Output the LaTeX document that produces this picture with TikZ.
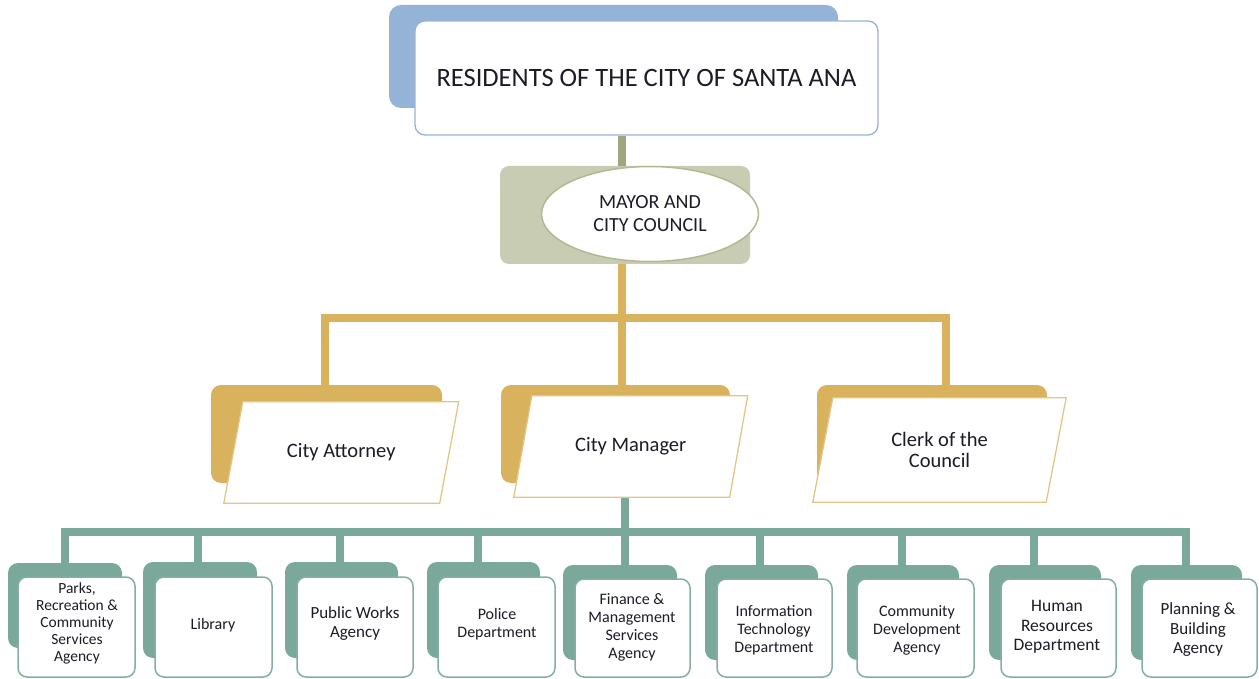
\documentclass[tikz,border=0pt]{standalone}
\usepackage{fontspec}
\setmainfont{Carlito}
\usetikzlibrary{shapes.geometric,fit}
\pgfdeclarelayer{back}
\pgfdeclarelayer{mid}
\pgfsetlayers{back,mid,main}
\definecolor{blueB}{HTML}{95B3D7}
\definecolor{oliveL}{HTML}{9FA77F}
\definecolor{oliveB}{HTML}{C8CCB2}
\definecolor{oliveE}{HTML}{B3B893}
\definecolor{goldC}{HTML}{D9B25E}
\definecolor{goldE}{HTML}{E3C687}
\definecolor{tealC}{HTML}{7AA89A}
\definecolor{tealE}{HTML}{84AFA2}
\definecolor{txt}{HTML}{1C1C28}
\tikzset{
  backblue/.style={fill=blueB, rounded corners=12pt, inner sep=0pt},
  frontblue/.style={fill=white, draw=blueB, line width=1.3pt, rounded corners=10pt, inner sep=0pt, text=txt, font=\fontsize{26.5}{30}\selectfont},
  backolive/.style={fill=oliveB, rounded corners=9pt, inner sep=0pt},
  ellolive/.style={ellipse, fill=white, draw=oliveE, line width=1.5pt, inner sep=0pt, align=center, text=txt, font=\fontsize{20}{23}\selectfont},
  backgold/.style={fill=goldC, rounded corners=10pt, inner sep=0pt},
  textgold/.style={inner sep=0pt, align=center, text=txt, font=\fontsize{20.5}{21.5}\selectfont},
  parafront/.style={fill=white, draw=goldE, line width=1.3pt},
  backteal/.style={fill=tealC, rounded corners=10pt, inner sep=0pt},
  frontteal/.style={fill=white, draw=tealE, line width=1.5pt, rounded corners=9pt, inner sep=0pt, align=center, text=txt, font=\fontsize{16}{18}\selectfont},
  oliveline/.style={draw=oliveL, line width=8pt},
  goldline/.style={draw=goldC, line width=8pt},
  tealline/.style={draw=tealC, line width=8pt},
}
\newcommand\paradraw[2]{\draw[parafront] ([xshift=#2]#1.north west) -- ([xshift=#2]#1.north east) -- ([xshift=-#2]#1.south east) -- ([xshift=-#2]#1.south west) -- cycle;}
\begin{document}
\begin{tikzpicture}[x=1pt,y=-1pt]
\useasboundingbox (0,0) rectangle (1259,679);
% ---------- top ----------
\begin{pgfonlayer}{back}
\node[backblue, fit={(389,5) (838,108)}] (topB) {};
\node[backolive, fit={(500,166) (750,264)}] (mayorB) {};
\node[backgold, fit={(211,385) (442,483)}] (attB) {};
\node[backgold, fit={(501,385) (730,483)}] (cmB) {};
\node[backgold, fit={(817,385) (1047,483)}] (clerkB) {};
\node[backteal, fit={(8,563) (122,648)}] (b1B) {};
\node[backteal, fit={(143,562) (257,658)}] (b2B) {};
\node[backteal, fit={(285,562) (398,658)}] (b3B) {};
\node[backteal, fit={(427,562) (540,658)}] (b4B) {};
\node[backteal, fit={(563,565) (677,660)}] (b5B) {};
\node[backteal, fit={(705,565) (818,660)}] (b6B) {};
\node[backteal, fit={(847,565) (959,660)}] (b7B) {};
\node[backteal, fit={(989,565) (1101,660)}] (b8B) {};
\node[backteal, fit={(1131,565) (1242,660)}] (b9B) {};
\end{pgfonlayer}
\node[frontblue, fit={(415,21) (878,135)}] (topF) {};
\node at (topF.center) (topT) [text=txt, font=\fontsize{26.5}{30}\selectfont] {RESIDENTS OF THE CITY OF SANTA ANA};
\node[ellolive, minimum width=217pt, minimum height=95pt] (mayorE) at (650,214) {MAYOR AND\\CITY COUNCIL};
% ---------- middle fronts ----------
\node[textgold, fit={(233.5,402) (449,503)}] (attF) {};
\node[textgold, fit={(523,396) (738.5,497)}] (cmF) {};
\node[textgold, fit={(823,398) (1056,502)}] (clerkF) {};
\begin{pgfonlayer}{mid}
\paradraw{attF}{9.5pt}
\paradraw{cmF}{9pt}
\paradraw{clerkF}{10pt}
\end{pgfonlayer}
\node[textgold] (attT) at (attF.center) {City Attorney};
\node[textgold] (cmT) at (cmF.center) {City Manager};
\node[textgold] (clerkT) at (clerkF.center) {Clerk of the\\Council};
% ---------- bottom fronts ----------
\node[frontteal, fit={(18,577) (135,677)}, font=\fontsize{15.5}{17}\selectfont] (b1F) {};
\node[frontteal, fit={(155,577) (272,677)}] (b2F) {};
\node[frontteal, fit={(297,577) (413,677)}] (b3F) {};
\node[frontteal, fit={(438,577) (555,677)}] (b4F) {};
\node[frontteal, fit={(575,579) (690,677)}] (b5F) {};
\node[frontteal, fit={(717,579) (832,677)}] (b6F) {};
\node[frontteal, fit={(857,579) (974,677)}] (b7F) {};
\node[frontteal, fit={(1001,579) (1116,677)}] (b8F) {};
\node[frontteal, fit={(1142,579) (1257,677)}] (b9F) {};
\node[frontteal, draw=none, fill=none, font=\fontsize{15.5}{17}\selectfont] (b1T) at (77,623) {Parks,\\Recreation \&\\Community\\Services\\Agency};
\node[frontteal, draw=none, fill=none] (b2T) at (213,625) {Library};
\node[frontteal, draw=none, fill=none, font=\fontsize{17}{19}\selectfont] (b3T) at (355,624) {Public Works\\Agency};
\node[frontteal, draw=none, fill=none] (b4T) at (497,624) {Police\\Department};
\node[frontteal, draw=none, fill=none] (b5T) at (632,627) {Finance \&\\Management\\Services\\Agency};
\node[frontteal, draw=none, fill=none] (b6T) at (774,630) {Information\\Technology\\Department};
\node[frontteal, draw=none, fill=none] (b7T) at (917,630) {Community\\Development\\Agency};
\node[frontteal, draw=none, fill=none, font=\fontsize{17.5}{19.5}\selectfont] (b8T) at (1057,627) {Human\\Resources\\Department};
\node[frontteal, draw=none, fill=none, font=\fontsize{17}{19.5}\selectfont] (b9T) at (1198,630) {Planning \&\\Building\\Agency};
% ---------- connectors ----------
\begin{pgfonlayer}{back}
\coordinate (spine) at (622,0);
\draw[oliveline] (topF.south -| spine) -- (mayorB.north -| spine);
\coordinate (gbus) at (622,318);
\coordinate (gL) at (325,318);
\coordinate (gR) at (946,318);
\draw[goldline] (mayorB.south -| gbus) -- (cmB.north -| gbus);
\draw[goldline] (gL |- attB.north) -- (gL) -- (gR) -- (gR |- clerkB.north);
\coordinate (tbus) at (625,532);
\coordinate (d1) at (65,532);
\coordinate (d2) at (198,532);
\coordinate (d3) at (340,532);
\coordinate (d4) at (478,532);
\coordinate (d6) at (760,532);
\coordinate (d7) at (902,532);
\coordinate (d8) at (1034,532);
\coordinate (d9) at (1186,532);
\draw[tealline] (cmF.south -| tbus) -- (tbus |- b5B.north);
\draw[tealline] (d1 |- b1B.north) -- (d1) -- (d9) -- (d9 |- b9B.north);
\draw[tealline] (d2) -- (d2 |- b2B.north);
\draw[tealline] (d3) -- (d3 |- b3B.north);
\draw[tealline] (d4) -- (d4 |- b4B.north);
\draw[tealline] (d6) -- (d6 |- b6B.north);
\draw[tealline] (d7) -- (d7 |- b7B.north);
\draw[tealline] (d8) -- (d8 |- b8B.north);
\end{pgfonlayer}
\end{tikzpicture}
\end{document}
